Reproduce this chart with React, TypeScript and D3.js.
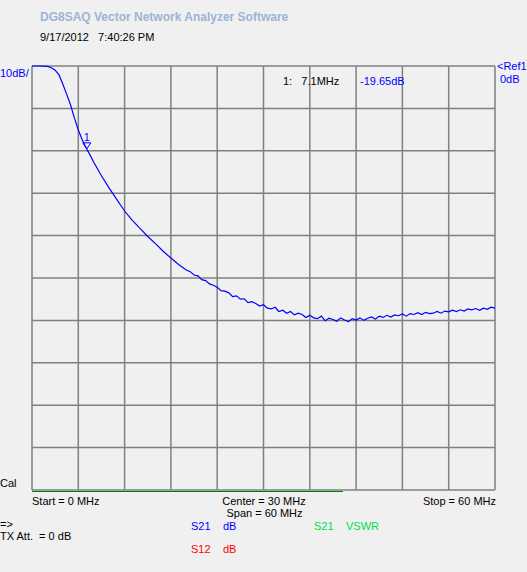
import React from "react";
import * as d3 from "d3";

const freqMHz = [
  0, 1, 2, 2.5, 3, 3.5, 4, 4.5, 5, 5.5, 6, 6.5, 7, 7.5, 8, 9, 10, 11, 12, 13, 14, 15, 16, 17, 18, 19, 20,
  20.5, 21, 21.5, 22, 22.5, 23, 23.5, 24, 24.5, 25, 25.5, 26, 26.5, 27, 27.5, 28, 28.5, 29, 29.5, 30,
  30.5, 31, 31.5, 32, 32.5, 33, 33.5, 34, 34.5, 35, 35.5, 36, 36.5, 37, 37.5, 38, 38.5, 39, 39.5, 40,
  40.5, 41, 41.5, 42, 42.5, 43, 43.5, 44, 44.5, 45, 45.5, 46, 46.5, 47, 47.5, 48, 48.5, 49, 49.5, 50,
  50.5, 51, 51.5, 52, 52.5, 53, 53.5, 54, 54.5, 55, 55.5, 56, 56.5, 57, 57.5, 58, 58.5, 59, 59.5, 60,
];
const s21dB = [
  0, 0, -0.1, -0.4, -1.0, -2.1, -4.3, -6.7, -9.2, -12.3, -15.1, -17.4, -19.3, -20.9, -22.7, -25.9, -28.8, -31.5, -34.2, -36.4, -38.3, -40.2, -41.9, -43.7, -45.3, -46.8, -48.1,
  -48.5, -49.3, -49.5, -50.4, -50.6, -51.4, -51.7, -52.2, -53.0, -53.1, -53.5, -54.4, -54.2, -55.0, -54.9, -55.8, -55.6, -56.0, -56.6, -56.3,
  -57.1, -57.3, -56.9, -57.9, -57.6, -58.3, -57.9, -58.7, -58.3, -58.6, -59.3, -58.8, -59.4, -59.6, -59.0, -60.1, -59.5, -59.8, -60.2, -59.4,
  -59.9, -60.3, -59.6, -59.9, -59.4, -60.0, -59.5, -59.2, -59.7, -59.0, -59.3, -58.8, -59.2, -58.7, -58.9, -58.5, -59.0, -58.4, -58.6, -58.2,
  -58.6, -58.1, -58.4, -58.3, -57.9, -58.3, -57.8, -58.0, -57.6, -57.9, -57.5, -57.8, -57.3, -57.5, -57.2, -57.6, -57.1, -57.4, -56.9, -57.1,
];
const xTicks = [0, 6, 12, 18, 24, 30, 36, 42, 48, 54, 60];
const yTicks = [0, -10, -20, -30, -40, -50, -60, -70, -80, -90, -100];
const markerFreq = 7.1;
const markerDB = -19.65;
const progressFreq = 40.3;

const FONT = "'Liberation Sans', Arial, sans-serif";

export default function App() {
  const x = d3.scaleLinear().domain([0, 60]).range([32, 495]);
  const y = d3.scaleLinear().domain([-100, 0]).range([490, 66]);
  const pts: [number, number][] = freqMHz.map((f, i) => [f, s21dB[i]]);
  const line = d3
    .line<[number, number]>()
    .x((d) => x(d[0]))
    .y((d) => y(d[1]));
  const mx = x(markerFreq);
  const my = y(markerDB);
  const t = (props: any, txt: string) => (
    <text fontFamily={FONT} fontSize={11} {...props}>
      {txt}
    </text>
  );
  return (
    <svg
      width={527}
      height={572}
      style={{ position: "absolute", left: 0, top: 0, background: "#F0F0F0" }}
    >
      <rect x={0} y={0} width={527} height={572} fill="#F0F0F0" />
      <text x={40} y={21} fontFamily={FONT} fontSize={12} fontWeight="bold" fill="#9DB4D4">
        DG8SAQ Vector Network Analyzer Software
      </text>
      {t({ x: 40, y: 40.5, fill: "#000", style: { whiteSpace: "pre" } }, "9/17/2012   7:40:26 PM")}
      {xTicks.map((v) => (
        <line key={"x" + v} x1={x(v)} x2={x(v)} y1={y(0)} y2={y(-100)} stroke="#808080" strokeWidth={1.5} />
      ))}
      {yTicks.map((v) => (
        <line key={"y" + v} x1={x(0)} x2={x(60)} y1={y(v)} y2={y(v)} stroke="#808080" strokeWidth={1.5} />
      ))}
      <line x1={x(0)} x2={x(progressFreq)} y1={491.5} y2={491.5} stroke="#008000" strokeWidth={1.2} />
      <path d={line(pts) || ""} fill="none" stroke="#0000FF" strokeWidth={1.2} />
      <path
        d={`M${mx - 4},${my - 6.5}L${mx + 4},${my - 6.5}L${mx},${my - 0.5}Z`}
        fill="none"
        stroke="#0000FF"
        strokeWidth={1}
      />
      {t({ x: mx, y: my - 8, fill: "#0000FF", textAnchor: "middle" }, "1")}
      {t({ x: 0, y: 77, fill: "#0000FF" }, "10dB/")}
      {t({ x: 283, y: 85, fill: "#000", style: { whiteSpace: "pre" } }, "1:   7.1MHz")}
      {t({ x: 360, y: 85, fill: "#0000FF" }, "-19.65dB")}
      {t({ x: 497, y: 70, fill: "#0000FF" }, "<Ref1")}
      {t({ x: 500, y: 83, fill: "#0000FF" }, "0dB")}
      {t({ x: 0, y: 487, fill: "#000" }, "Cal")}
      {t({ x: 32, y: 504.5, fill: "#000" }, "Start = 0 MHz")}
      {t({ x: 264, y: 504.5, fill: "#000", textAnchor: "middle" }, "Center = 30 MHz")}
      {t({ x: 264.5, y: 517, fill: "#000", textAnchor: "middle" }, "Span = 60 MHz")}
      {t({ x: 496, y: 504.5, fill: "#000", textAnchor: "end" }, "Stop = 60 MHz")}
      {t({ x: 0, y: 528, fill: "#000" }, "=>")}
      {t({ x: 0, y: 540, fill: "#000", style: { whiteSpace: "pre" } }, "TX Att.  = 0 dB")}
      {t({ x: 191, y: 530, fill: "#0000FF" }, "S21")}
      {t({ x: 223, y: 530, fill: "#0000FF" }, "dB")}
      {t({ x: 314, y: 530, fill: "#00E040" }, "S21")}
      {t({ x: 346, y: 530, fill: "#00E040" }, "VSWR")}
      {t({ x: 191, y: 553, fill: "#FF0000" }, "S12")}
      {t({ x: 223, y: 553, fill: "#FF0000" }, "dB")}
    </svg>
  );
}
